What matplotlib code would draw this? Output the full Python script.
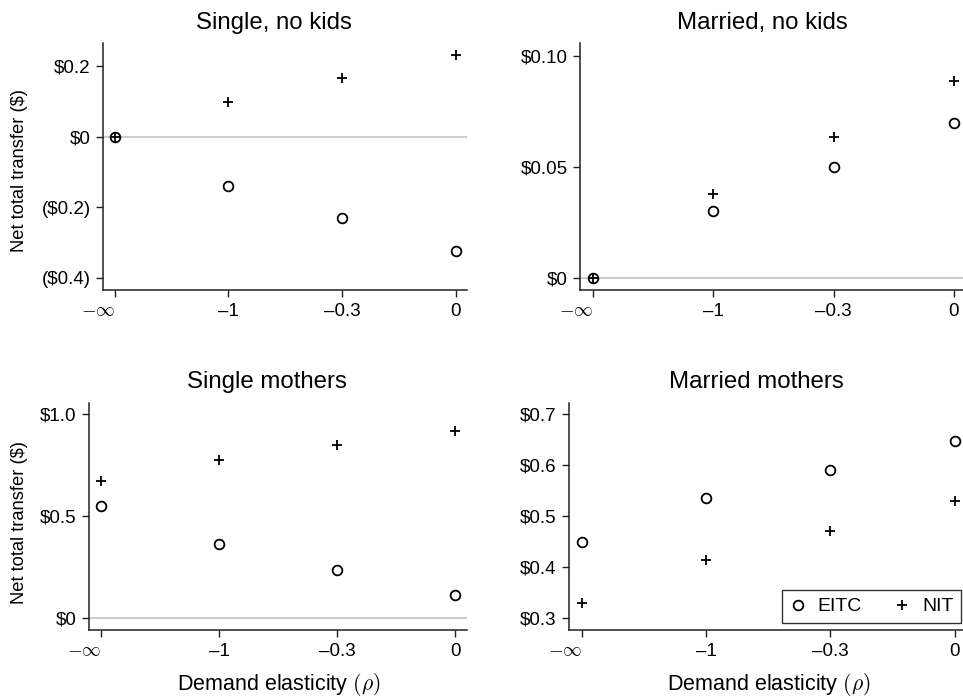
import matplotlib
matplotlib.use("Agg")
import matplotlib.pyplot as plt
import matplotlib.transforms as mtransforms
from matplotlib.ticker import FixedLocator, FuncFormatter

plt.rcParams['font.family'] = ['Liberation Sans', 'DejaVu Sans']
plt.rcParams['mathtext.fontset'] = 'cm'

# elasticity categories (x axis)
elasticities = [r'$-\infty$', '\u20131', '\u20130.3', '0']
x = [0, 1, 2, 3]

titles = ['Single, no kids', 'Married, no kids', 'Single mothers', 'Married mothers']

eitc_single_nokids = [0.0, -0.139, -0.231, -0.324]
nit_single_nokids = [0.0, 0.099, 0.165, 0.231]
eitc_married_nokids = [0.0, 0.030, 0.050, 0.070]
nit_married_nokids = [0.0, 0.038, 0.0635, 0.089]
eitc_single_mothers = [0.549, 0.360, 0.234, 0.110]
nit_single_mothers = [0.670, 0.776, 0.847, 0.917]
eitc_married_mothers = [0.449, 0.534, 0.590, 0.647]
nit_married_mothers = [0.328, 0.413, 0.470, 0.528]

yticks_single_nokids = [-0.4, -0.2, 0.0, 0.2]
yticks_married_nokids = [0.0, 0.05, 0.10]
yticks_single_mothers = [0.0, 0.5, 1.0]
yticks_married_mothers = [0.3, 0.4, 0.5, 0.6, 0.7]

eitc = [eitc_single_nokids, eitc_married_nokids, eitc_single_mothers, eitc_married_mothers]
nit = [nit_single_nokids, nit_married_nokids, nit_single_mothers, nit_married_mothers]
yticks = [yticks_single_nokids, yticks_married_nokids, yticks_single_mothers, yticks_married_mothers]
decimals = [1, 2, 1, 1]
ylims = [(-0.434, 0.265), (-0.0054, 0.1059), (-0.060, 1.054), (0.276, 0.721)]

W, H = 963, 696
fig = plt.figure(figsize=(W / 100, H / 100), dpi=100)

# axes boxes in pixels: left, right, top, bottom
boxes = [(103, 467, 43, 290), (580, 966, 43, 290),
         (89, 467, 403, 630), (569, 967, 403, 630)]
title_pos = [(274, 23), (762, 23), (267, 382), (756, 382)]


def money(d):
    def f(v, pos):
        if abs(v) < 1e-9:
            return '$0'
        s = '${:.{d}f}'.format(abs(v), d=d)
        return '(' + s + ')' if v < 0 else s
    return f


axes = []
for i in range(4):
    l, r, t, b = boxes[i]
    ax = fig.add_axes([l / W, 1 - b / H, (r - l) / W, (b - t) / H])
    axes.append(ax)
    ax.axhline(0, color='#c8c8c8', lw=1.3, zorder=0)
    ax.plot(x, eitc[i], ls='none', marker='o', ms=7, mfc='none', mec='black',
            mew=1.3, label='EITC', clip_on=False)
    ax.plot(x, nit[i], ls='none', marker='+', ms=7, mec='black',
            mew=1.3, label='NIT', clip_on=False)
    ax.set_xlim(-0.105, 3.1)
    ax.set_ylim(*ylims[i])
    ax.xaxis.set_major_locator(FixedLocator(x))
    ax.set_xticklabels(elasticities)
    ax.yaxis.set_major_locator(FixedLocator(yticks[i]))
    ax.yaxis.set_major_formatter(FuncFormatter(money(decimals[i])))
    for s in ['top', 'right']:
        ax.spines[s].set_visible(False)
    for s in ['left', 'bottom']:
        ax.spines[s].set_linewidth(1.1)
        ax.spines[s].set_color('#222222')
    ax.tick_params(direction='out', length=5, width=1.0, color='#222222',
                   labelsize=13.5, pad=4)
    ax.patch.set_alpha(0)
    # -inf label sits a bit to the left in the original
    lab = ax.get_xticklabels()[0]
    lab.set_transform(lab.get_transform() +
                      mtransforms.ScaledTranslation(-0.17, 0, fig.dpi_scale_trans))
    tx, ty = title_pos[i]
    fig.text(tx / W, 1 - ty / H, titles[i], ha='center', va='center', fontsize=17.3)

fig.text(19 / W, 1 - 171 / H, 'Net total transfer ($)', rotation=90,
         ha='center', va='center', fontsize=13.2)
fig.text(19 / W, 1 - 522 / H, 'Net total transfer ($)', rotation=90,
         ha='center', va='center', fontsize=13.2)
fig.text(279 / W, 1 - 684 / H, r'Demand elasticity $(\rho)$', ha='center',
         va='center', fontsize=15.5)
fig.text(769 / W, 1 - 684 / H, r'Demand elasticity $(\rho)$', ha='center',
         va='center', fontsize=15.5)

leg = axes[3].legend(loc='lower right', bbox_to_anchor=(0.985, 0.03),
                     borderaxespad=0, ncol=2, fontsize=14, frameon=True,
                     fancybox=False, edgecolor='black', handlelength=0.8,
                     handletextpad=0.6, columnspacing=1.7, borderpad=0.4)
leg.get_frame().set_linewidth(1.0)

fig.savefig('out.png', dpi=100)
